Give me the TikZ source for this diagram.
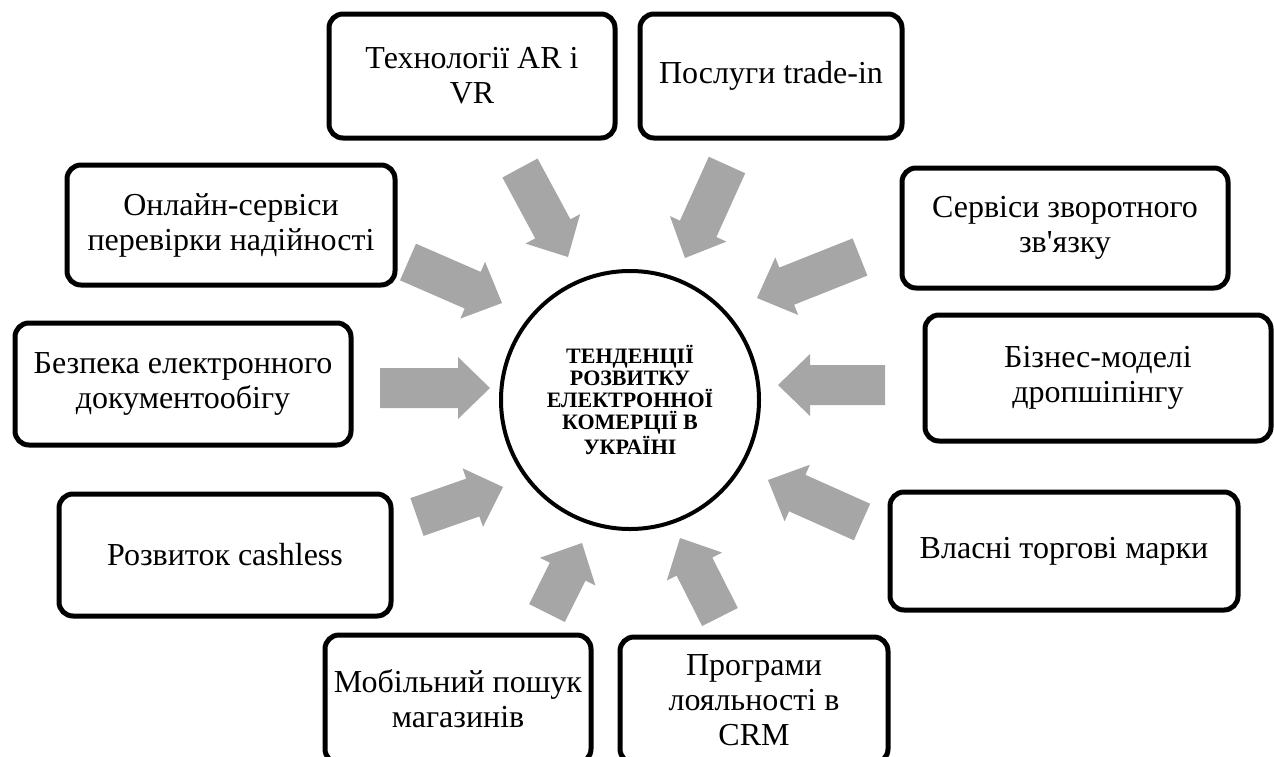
\documentclass[tikz,border=0pt]{standalone}
\usepackage{fontspec}
\setmainfont{Liberation Serif}
\newfontfamily\boxfont{Liberation Serif}
\usetikzlibrary{calc}
\definecolor{arrowgray}{HTML}{A6A6A6}
\tikzset{
    x=0.5pt, y=-0.5pt, % one unit is one pixel of the layout
    trend/.style={ % Rounded boxes around the hub
        draw,
        line width=2.5pt,
        rounded corners=7pt,
        align=center,
        inner sep=0pt,
        font=\boxfont\fontsize{16}{17.5}\selectfont
    },
    hub/.style={ % Central circle
        circle,
        draw,
        line width=2pt,
        minimum size=129pt,
        align=center,
        font=\boxfont\bfseries\fontsize{11}{11}\selectfont
    },
    push/.style={ % Thick grey block arrows, one filled outline each
        fill=arrowgray,
        draw=none,
        to path={
            ($(\tikztostart)!10pt!90:(\tikztotarget)$)
            -- ($($(\tikztotarget)!16pt!(\tikztostart)$)!10pt!90:(\tikztotarget)$)
            -- ($($(\tikztotarget)!16pt!(\tikztostart)$)!15.5pt!90:(\tikztotarget)$)
            -- (\tikztotarget)
            -- ($($(\tikztotarget)!16pt!(\tikztostart)$)!15.5pt!-90:(\tikztotarget)$)
            -- ($($(\tikztotarget)!16pt!(\tikztostart)$)!10pt!-90:(\tikztotarget)$)
            -- ($(\tikztostart)!10pt!-90:(\tikztotarget)$)
            -- cycle
        }
    },
}

\begin{document}
\begin{tikzpicture}
    \useasboundingbox (0,0) rectangle (1274,756);
    \node[hub]                                             (hub)   at (630,400)   {ТЕНДЕНЦІЇ\\РОЗВИТКУ\\ЕЛЕКТРОННОЇ\\КОМЕРЦІЇ В\\УКРАЇНІ};
    \node[trend, minimum width=143pt, minimum height=62pt] (arvr)  at (472,76)    {Технології AR і\\VR};
    \node[trend, minimum width=131pt, minimum height=62pt] (trade) at (771,76)    {Послуги trade-in};
    \node[trend, minimum width=164pt, minimum height=60pt] (check) at (231,225)   {Онлайн-сервіси\\перевірки надійності};
    \node[trend, minimum width=163pt, minimum height=60pt] (fback) at (1065,228)  {Сервіси зворотного\\зв'язку};
    \node[trend, minimum width=168pt, minimum height=61pt] (docs)  at (183,384)   {Безпека електронного\\документообігу};
    \node[trend, minimum width=173pt, minimum height=63pt] (drop)  at (1098,378)  {Бізнес-моделі\\дропшіпінгу};
    \node[trend, minimum width=166pt, minimum height=61pt] (cash)  at (225,555)   {Розвиток cashless};
    \node[trend, minimum width=174pt, minimum height=59pt] (brand) at (1064,551)  {Власні торгові марки};
    \node[trend, minimum width=133pt, minimum height=64pt] (mobile) at (458,699)  {Мобільний пошук\\магазинів};
    \node[trend, minimum width=134pt, minimum height=63pt] (loyal) at (754,700)   {Програми\\лояльності в\\CRM};

    % tails and tips of the grey arrows
    \coordinate (arvr-t)   at (520,168);  \coordinate (arvr-h)   at (568,257);
    \coordinate (trade-t)  at (727,165);  \coordinate (trade-h)  at (685,258);
    \coordinate (check-t)  at (408,262);  \coordinate (check-h)  at (502,303);
    \coordinate (docs-t)   at (380,388);  \coordinate (docs-h)   at (490,388);
    \coordinate (cash-t)   at (417,517);  \coordinate (cash-h)   at (503,487);
    \coordinate (mobile-t) at (547,613);  \coordinate (mobile-h) at (582,543);
    \coordinate (loyal-t)  at (720,617);  \coordinate (loyal-h)  at (680,538);
    \coordinate (brand-t)  at (862,522);  \coordinate (brand-h)  at (768,480);
    \coordinate (drop-t)   at (885,385);  \coordinate (drop-h)   at (778,385);
    \coordinate (fback-t)  at (860,257);  \coordinate (fback-h)  at (757,298);

    \path   (arvr-t)   edge[push] (arvr-h)
            (trade-t)  edge[push] (trade-h)
            (check-t)  edge[push] (check-h)
            (docs-t)   edge[push] (docs-h)
            (cash-t)   edge[push] (cash-h)
            (mobile-t) edge[push] (mobile-h)
            (loyal-t)  edge[push] (loyal-h)
            (brand-t)  edge[push] (brand-h)
            (drop-t)   edge[push] (drop-h)
            (fback-t)  edge[push] (fback-h)
    ;
\end{tikzpicture}
\end{document}
